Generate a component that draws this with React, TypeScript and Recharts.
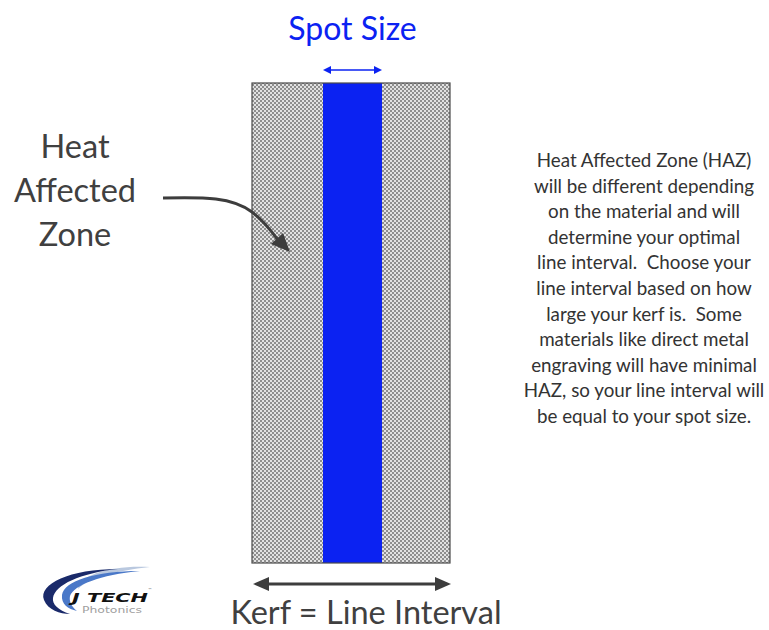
import React from 'react';
import { BarChart, Bar, XAxis, YAxis } from 'recharts';

// ---- data ----
const rowLabels = ['Kerf'];
const zoneKeys = ['hazLeft', 'spot', 'hazRight'];
const zoneNames = ['Heat Affected Zone', 'Spot Size', 'Heat Affected Zone'];
const zoneWidths = [71, 59, 68];
const titleText = 'Spot Size';
const leftLabelLines = ['Heat', 'Affected', 'Zone'];
const bottomLabel = 'Kerf = Line Interval';
const noteLines = [
  'Heat Affected Zone (HAZ)',
  'will be different depending',
  'on the material and will',
  'determine your optimal',
  'line interval.  Choose your',
  'line interval based on how',
  'large your kerf is.  Some',
  'materials like direct metal',
  'engraving will have minimal',
  'HAZ, so your line interval will',
  'be equal to your spot size.',
];

const W = 769;
const H = 630;
const M = { top: 83, right: 319, bottom: 67, left: 252 };
const PW = W - M.left - M.right;
const PH = H - M.top - M.bottom;
const total = zoneWidths.reduce((a, b) => a + b, 0);
const xOf = (v: number) => M.left + (v / total) * PW;

const data = rowLabels.map((r) => {
  const o: any = { row: r };
  zoneKeys.forEach((k, i) => (o[k] = zoneWidths[i]));
  return o;
});

const BLUE = '#0b22f2';
const DARK = '#3d3d3d';
const FONT = 'Lato, "Open Sans", sans-serif';

function Overlay() {
  const spotStart = xOf(zoneWidths[0]);
  const spotEnd = xOf(zoneWidths[0] + zoneWidths[1]);
  const spotMid = (spotStart + spotEnd) / 2;
  return (
    <svg width={W} height={H} style={{ position: 'absolute', left: 0, top: 0, pointerEvents: 'none' }}>
      {/* outline of kerf */}
      <rect x={M.left} y={M.top} width={PW} height={PH} fill="none" stroke="#4a4a4a" strokeWidth={1.2} />

      {/* Spot size title */}
      <text x={spotMid} y={40} textAnchor="middle" fontFamily={FONT} fontSize={32} fill={BLUE}>
        {titleText}
      </text>
      {/* spot size arrow */}
      <line x1={spotStart + 6} y1={70} x2={spotEnd - 6} y2={70} stroke={BLUE} strokeWidth={1.6} />
      <path d={`M${spotStart},70 L${spotStart + 8},66 L${spotStart + 8},74 Z`} fill={BLUE} />
      <path d={`M${spotEnd},70 L${spotEnd - 8},66 L${spotEnd - 8},74 Z`} fill={BLUE} />

      {/* kerf arrow */}
      <line x1={M.left + 12} y1={584} x2={M.left + PW - 10} y2={584} stroke={DARK} strokeWidth={3} />
      <path d={`M${M.left + 1},584 L${M.left + 17},577 L${M.left + 17},591 Z`} fill={DARK} />
      <path d={`M${M.left + PW + 1},584 L${M.left + PW - 15},577 L${M.left + PW - 15},591 Z`} fill={DARK} />
      <text x={366} y={624} textAnchor="middle" fontFamily={FONT} fontSize={32.5} fill="#404040">
        {bottomLabel}
      </text>

      {/* Heat affected zone label */}
      {leftLabelLines.map((t, i) => (
        <text key={t} x={75} y={158 + i * 44} textAnchor="middle" fontFamily={FONT} fontSize={32.5} fill="#404040">
          {t}
        </text>
      ))}
      {/* curved arrow */}
      <path d="M163,198 C205,197 232,197 252,212 C265,222 272,232 278,240" fill="none" stroke={DARK} strokeWidth={3} />
      <path d="M290,252 L271,244 L283,233 Z" fill={DARK} />

      {/* note */}
      {noteLines.map((t, i) => (
        <text
          key={i}
          x={644}
          y={167 + i * 25.6}
          textAnchor="middle"
          fontFamily={FONT}
          fontSize={18.8}
          fill="#333333"
          style={{ whiteSpace: 'pre' }}
        >
          {t}
        </text>
      ))}

      {/* logo */}
      <g>
        <path d="M150,567 C110,565 80,575 78,589 C90,577 115,571 150,567 Z" fill="#b9c8df" />
        <path d="M140,571 C95,571 64,581 62,595 C61,604 68,609 77,611 C71,606 69,601 70,596 C74,585 100,575 140,571 Z" fill="#4a78c8" />
        <path d="M118,569 C70,569 38,584 44,600 C48,610 60,614 70,614 C58,610 52,604 53,598 C55,585 80,573 118,569 Z" fill="#1a2a6a" />
        <text
          x={72}
          y={602}
          textLength={76}
          lengthAdjust="spacingAndGlyphs"
          fontFamily="'DejaVu Sans', sans-serif"
          fontWeight="bold"
          fontStyle="italic"
          fontSize={13}
          fill="#111"
        >
          J TECH
        </text>
        <text x={148} y={591} fontFamily="'DejaVu Sans', sans-serif" fontSize={4} fill="#666">
          ™
        </text>
        <text
          x={82}
          y={613}
          textLength={60}
          lengthAdjust="spacingAndGlyphs"
          fontFamily="'DejaVu Sans', sans-serif"
          fontSize={9}
          fill="#a0a0a0"
        >
          Photonics
        </text>
      </g>
    </svg>
  );
}

export default function App() {
  return (
    <div style={{ position: 'absolute', left: 0, top: 0, width: W, height: H, background: '#fff' }}>
      <svg width={0} height={0} style={{ position: 'absolute' }}>
        <defs>
          <pattern id="hazPattern" width={4} height={4} patternUnits="userSpaceOnUse">
            <rect width={4} height={4} fill="#e2e2e2" />
            <rect x={0} y={0} width={2} height={2} fill="#8e8e8e" />
            <rect x={2} y={2} width={2} height={2} fill="#8e8e8e" />
          </pattern>
        </defs>
      </svg>
      <BarChart width={W} height={H} data={data} layout="vertical" margin={M} barCategoryGap={0}>
        <XAxis type="number" hide domain={[0, total]} />
        <YAxis type="category" dataKey="row" hide />
        {zoneKeys.map((k, i) => (
          <Bar
            key={k}
            dataKey={k}
            name={zoneNames[i]}
            stackId="kerf"
            fill={k === 'spot' ? BLUE : 'url(#hazPattern)'}
            isAnimationActive={false}
          />
        ))}
      </BarChart>
      <Overlay />
    </div>
  );
}
